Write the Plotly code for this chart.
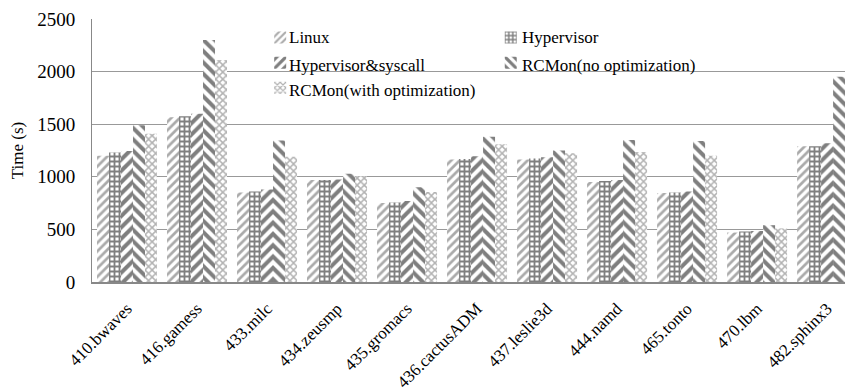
import plotly.graph_objects as go

categories = ["410.bwaves", "416.gamess", "433.milc", "434.zeusmp", "435.gromacs",
              "436.cactusADM", "437.leslie3d", "444.namd", "465.tonto", "470.lbm", "482.sphinx3"]

linux = [1200, 1565, 850, 970, 750, 1165, 1165, 950, 845, 470, 1290]
hypervisor = [1230, 1575, 860, 970, 755, 1170, 1175, 960, 850, 480, 1290]
hyp_syscall = [1245, 1600, 880, 975, 770, 1195, 1185, 970, 860, 485, 1320]
rcmon_noopt = [1490, 2300, 1345, 1030, 900, 1380, 1250, 1350, 1340, 540, 1950]
rcmon_opt = [1410, 2110, 1190, 1005, 855, 1310, 1225, 1235, 1200, 510, 1770]

series_names = ["Linux", "Hypervisor", "Hypervisor&syscall",
                "RCMon(no optimization)", "RCMon(with optimization)"]

series = [
    (series_names[0], linux, dict(shape="/", fgcolor="#555555", bgcolor="white", size=6, solidity=0.45), "legend"),
    (series_names[1], hypervisor, dict(shape="+", fgcolor="#000000", bgcolor="white", size=5, solidity=0.6), "legend2"),
    (series_names[2], hyp_syscall, dict(shape="/", fgcolor="#000000", bgcolor="white", size=8, solidity=0.5), "legend"),
    (series_names[3], rcmon_noopt, dict(shape="\\", fgcolor="#000000", bgcolor="white", size=8, solidity=0.5), "legend2"),
    (series_names[4], rcmon_opt, dict(shape="x", fgcolor="#666666", bgcolor="white", size=5, solidity=0.5), "legend"),
]

FONT = "Times New Roman"

fig = go.Figure()
for name, vals, pat, lg in series:
    fig.add_trace(go.Bar(
        x=categories, y=vals, name=" ",
        marker=dict(color="white", line=dict(width=0), pattern=pat),
        legend=lg, hoverinfo="skip",
    ))

# legend labels drawn as serif text next to the legend swatches
label_pos = {
    series_names[0]: (0.256, 0.928),
    series_names[1]: (0.562, 0.928),
    series_names[2]: (0.256, 0.825),
    series_names[3]: (0.562, 0.825),
    series_names[4]: (0.256, 0.730),
}
for nm, (ax, ay) in label_pos.items():
    fig.add_annotation(text=nm, xref="paper", yref="paper", x=ax, y=ay,
                       xanchor="left", yanchor="middle", showarrow=False,
                       font=dict(size=17, family=FONT, color="black"))

# the page body has a default 8px margin, so the figure is sized to fit
fig.update_layout(
    width=845, height=381,
    margin=dict(l=84, r=0, t=11, b=107, autoexpand=False),
    paper_bgcolor="white", plot_bgcolor="white",
    barmode="group", bargap=0.143, bargroupgap=0,
    font=dict(family=FONT, color="black"),
    showlegend=True,
    legend=dict(x=0.221, y=0.996, xanchor="left", yanchor="top",
                orientation="v", bgcolor="rgba(0,0,0,0)",
                font=dict(size=17, family=FONT, color="black"), itemwidth=30,
                tracegroupgap=0),
    legend2=dict(x=0.524, y=0.996, xanchor="left", yanchor="top",
                 orientation="v", bgcolor="rgba(0,0,0,0)",
                 font=dict(size=17, family=FONT, color="black"), itemwidth=30,
                 tracegroupgap=0),
    xaxis=dict(range=[-0.5, 10.37], tickangle=-45, showgrid=False,
               ticks="", showline=True, linecolor="#888888", linewidth=2,
               automargin=False, ticklabelstandoff=8,
               tickfont=dict(size=17, family=FONT)),
    yaxis=dict(range=[0, 2500], tickvals=[0, 500, 1000, 1500, 2000, 2500],
               showgrid=True, gridcolor="#999999", gridwidth=1,
               showline=True, linecolor="#888888", linewidth=1, ticks="",
               zeroline=False, automargin=False, ticklabelstandoff=12,
               tickfont=dict(size=19, family=FONT),
               title=dict(text="Time (s)", font=dict(size=17, family=FONT), standoff=14)),
)

fig.write_html("out.html")
